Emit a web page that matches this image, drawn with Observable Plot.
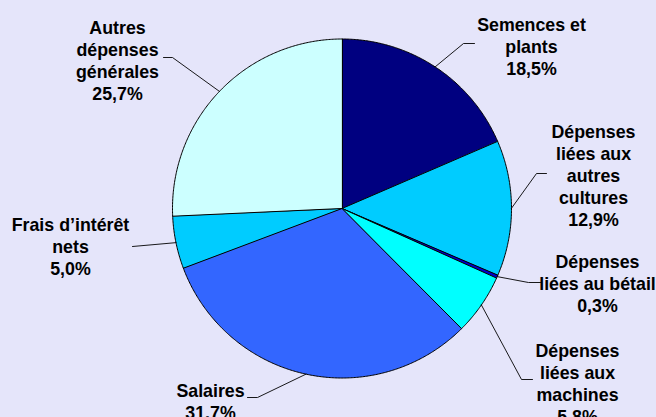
<!DOCTYPE html>
<html>
<head>
<meta charset="utf-8">
<script src="https://cdn.jsdelivr.net/npm/d3@7"></script>
<script src="https://cdn.jsdelivr.net/npm/@observablehq/plot@0.6"></script>
<style>
  html, body { margin: 0; padding: 0; background: #E5E5FA; }
  #chart svg { display: block; }
</style>
</head>
<body>
<div id="chart"></div>
<script>
// Data
const names = [
  "Semences et\nplants",
  "Dépenses\nliées aux\nautres\ncultures",
  "Dépenses\nliées au bétail",
  "Dépenses\nliées aux\nmachines",
  "Salaires",
  "Frais d’intérêt\nnets",
  "Autres\ndépenses\ngénérales"
];
const values = [18.5, 12.9, 0.3, 5.8, 31.7, 5.0, 25.7];
const colors = ["#000080", "#00CCFF", "#0000CC", "#00FFFF", "#3366FF", "#00CCFF", "#CCFFFF"];

// Layout (pixels)
const W = 656, H = 417;
const center = [341.5, 208];
const radius = 169.5;
const labelBaseline = [[531, 28], [593, 135], [597, 265], [577, 354], [210, 394], [70, 228], [117, 31]];
const leaderElbows = [
  [[474, 43], [463, 43]],
  [[546, 173], [536, 173]],
  [[540, 282], [528, 282]],
  [[532, 379], [521, 379]],
  [[247, 397], [257, 397]],
  [[132, 246]],
  [[163, 57], [172, 57]]
];
const fontSize = 17.8;

const fmt = v => v.toFixed(1).replace(".", ",") + "%";
const arcs = d3.pie().sort(null).value(d => d)(values);

const pt = a => [center[0] + radius * Math.sin(a), center[1] - radius * Math.cos(a)];

const slicePts = [];
arcs.forEach((a, i) => {
  slicePts.push({k: i, x: center[0], y: center[1]});
  const n = Math.max(2, Math.ceil((a.endAngle - a.startAngle) / (Math.PI / 360)));
  for (let j = 0; j <= n; j++) {
    const ang = a.startAngle + (a.endAngle - a.startAngle) * j / n;
    const [x, y] = pt(ang);
    slicePts.push({k: i, x, y});
  }
});

const leaderPts = [];
arcs.forEach((a, i) => {
  leaderElbows[i].forEach(([x, y]) => leaderPts.push({k: i, x, y}));
  const [x, y] = pt((a.startAngle + a.endAngle) / 2);
  leaderPts.push({k: i, x, y});
});

const labels = names.map((n, i) => ({
  text: n + "\n" + fmt(values[i]),
  x: labelBaseline[i][0],
  y: labelBaseline[i][1] - 0.71 * fontSize
}));

const chart = Plot.plot({
  width: W,
  height: H,
  margin: 0,
  style: {background: "#E5E5FA", overflow: "hidden"},
  x: {domain: [0, W], range: [0, W], axis: null},
  y: {domain: [0, H], range: [0, H], axis: null},
  color: {domain: d3.range(values.length), range: colors},
  marks: [
    Plot.line(slicePts, {
      x: "x", y: "y", z: "k", fill: "k",
      stroke: "black", strokeWidth: 1, curve: "linear-closed", strokeLinejoin: "round"
    }),
    Plot.line(leaderPts, {x: "x", y: "y", z: "k", stroke: "black", strokeWidth: 0.9}),
    Plot.text(labels, {
      x: "x", y: "y", text: "text",
      textAnchor: "middle", lineAnchor: "top", lineHeight: 22 / fontSize,
      fontSize, fontWeight: "bold",
      fontFamily: "'Liberation Sans', Arial, sans-serif", fill: "black"
    })
  ]
});
document.getElementById("chart").append(chart);
</script>
</body>
</html>
